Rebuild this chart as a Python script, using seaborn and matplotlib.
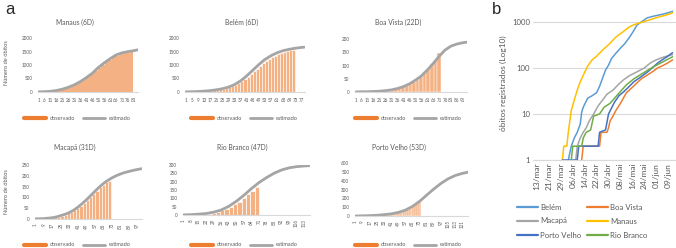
import pandas as pd
import numpy as np
import seaborn as sns
import matplotlib.pyplot as plt
from matplotlib.lines import Line2D

sns.set_style("white")
plt.rcParams['font.family'] = ['Lato', 'DejaVu Sans']

# ---- panel a: cumulative deaths, observed (bars) vs estimated (line) ----
manaus_est_days = [1, 6, 11, 16, 21, 26, 31, 36, 41, 46, 51, 56, 61, 66, 71, 76, 81, 84]
manaus_est_vals = [5, 12, 26, 55, 105, 175, 265, 385, 530, 690, 900, 1075, 1230, 1370, 1450, 1495, 1530, 1560]
manaus_obs_days = [4, 7, 10, 13, 16, 19, 22, 25, 28, 31, 34, 37, 40, 43, 46, 49, 52, 55, 58, 61, 64, 67, 70, 73, 76, 79]
manaus_obs_vals = [2, 5, 10, 20, 40, 70, 100, 140, 195, 245, 320, 395, 480, 570, 660, 770, 890, 1000, 1100, 1190,
                   1280, 1340, 1410, 1440, 1460, 1480]

belem_est_days = [1, 5, 9, 13, 17, 21, 25, 29, 33, 37, 41, 45, 49, 53, 57, 61, 65, 69, 73, 77, 79]
belem_est_vals = [5, 10, 18, 32, 50, 80, 120, 180, 270, 410, 590, 800, 1010, 1200, 1340, 1450, 1530, 1580, 1620,
                  1650, 1660]
belem_obs_days = list(range(2, 73, 2))
belem_obs_vals = [1, 3, 5, 8, 12, 18, 25, 35, 45, 60, 75, 95, 115, 140, 170, 210, 260, 320, 390, 470, 560, 660,
                  760, 860, 960, 1060, 1140, 1220, 1290, 1350, 1400, 1440, 1480, 1510, 1540, 1560]

boavista_est_days = [1, 6, 11, 16, 21, 26, 31, 36, 41, 46, 51, 56, 61, 66, 71, 76, 81, 86, 91, 94]
boavista_est_vals = [0, 1, 1, 2, 3, 5, 8, 13, 20, 30, 44, 60, 82, 107, 134, 158, 173, 181, 186, 188]
boavista_obs_days = [29, 32, 35, 38, 41, 44, 47, 50, 53, 56, 59, 62, 65, 68, 71]
boavista_obs_vals = [5, 8, 11, 15, 19, 24, 31, 38, 47, 58, 72, 88, 104, 120, 146]

macapa_est_days = [1, 5, 9, 13, 17, 21, 25, 29, 33, 37, 41, 45, 49, 53, 57, 61, 65, 69, 73, 77, 81, 85, 89, 93,
                   97, 101]
macapa_est_vals = [1, 1, 2, 4, 6, 10, 16, 22, 30, 41, 55, 71, 89, 108, 128, 147, 164, 178, 190, 200, 208, 215,
                   220, 225, 229, 233]
macapa_obs_days = [11, 14, 17, 20, 23, 26, 29, 32, 35, 38, 41, 44, 47, 50, 53, 56, 59, 62, 65, 68, 71]
macapa_obs_vals = [2, 3, 5, 7, 11, 15, 20, 26, 33, 41, 50, 60, 72, 86, 100, 115, 130, 146, 158, 170, 177]

riobranco_est_days = [1, 8, 15, 22, 29, 36, 43, 50, 57, 64, 71, 78, 85, 92, 99, 106, 113, 118]
riobranco_est_vals = [1, 2, 5, 9, 17, 30, 52, 82, 118, 158, 194, 224, 250, 270, 283, 290, 294, 296]
riobranco_obs_days = [13, 17, 21, 25, 29, 33, 37, 41, 45, 49, 53, 57, 61, 65, 69]
riobranco_obs_vals = [2, 3, 6, 9, 14, 20, 28, 38, 50, 64, 80, 100, 125, 145, 168]

portovelho_est_days = [1, 9, 17, 25, 33, 41, 49, 57, 65, 73, 81, 89, 97, 105, 113, 121, 127]
portovelho_est_vals = [0, 2, 4, 8, 15, 24, 40, 66, 108, 165, 236, 305, 368, 420, 458, 482, 495]
portovelho_obs_days = list(range(30, 75, 2))
portovelho_obs_vals = [10, 11, 13, 15, 17, 20, 23, 27, 31, 36, 41, 47, 53, 60, 68, 78, 88, 98, 110, 125, 140,
                       160, 180]

# ---- panel b: registered deaths (log), day offsets from 13/mar ----
start_b = pd.Timestamp("2020-03-13")
cities_b = ["Belém", "Boa Vista", "Macapá", "Manaus", "Porto Velho", "Rio Branco"]
belem_b_days = [21, 23, 25, 27, 29, 30, 31, 34, 37, 40, 42, 44, 46, 48, 50, 53, 56, 59, 62, 65, 67, 70, 74, 78,
                83, 87, 91]
belem_b_vals = [1, 2, 3, 4, 6, 11, 14, 22, 25, 29, 40, 60, 90, 115, 160, 210, 270, 340, 460, 650, 850, 1000,
                1230, 1330, 1440, 1550, 1700]
boavista_b_days = [30, 31, 42, 43, 47, 48, 49, 51, 53, 56, 60, 64, 67, 70, 74, 78, 81, 85, 88, 91]
boavista_b_vals = [1, 2, 2, 4, 4, 5, 7, 9, 12, 17, 29, 38, 47, 58, 70, 85, 100, 115, 130, 150]
macapa_b_days = [26, 27, 29, 31, 33, 35, 38, 41, 44, 47, 51, 55, 58, 62, 67, 72, 76, 80, 85, 91]
macapa_b_vals = [1, 2, 3, 4, 5, 7, 10, 15, 20, 27, 33, 45, 55, 68, 82, 100, 128, 150, 173, 195]
manaus_b_days = [17, 18, 20, 21, 22, 23, 25, 27, 29, 32, 34, 37, 40, 44, 48, 53, 58, 62, 65, 71, 76, 82, 87, 91]
manaus_b_vals = [1, 2, 2, 4, 7, 12, 20, 33, 50, 81, 110, 150, 180, 245, 320, 470, 620, 780, 870, 1000, 1120,
                 1290, 1420, 1580]
portovelho_b_days = [17, 27, 28, 41, 42, 46, 48, 52, 55, 58, 62, 65, 70, 74, 78, 81, 84, 87, 91]
portovelho_b_vals = [1, 1, 2, 2, 4, 4.5, 10, 18, 25, 30, 40, 50, 65, 81, 105, 128, 150, 173, 215]
riobranco_b_days = [23, 24, 30, 31, 33, 36, 38, 42, 45, 49, 54, 60, 65, 69, 74, 78, 83, 87, 91]
riobranco_b_vals = [1, 2, 2, 3, 4, 4.5, 9, 10, 14, 17, 26, 43, 58, 70, 88, 105, 128, 150, 175]
ticks_b = ["13/mar", "21/mar", "29/mar", "06/abr", "14/abr", "22/abr", "30/abr", "08/mai", "16/mai", "24/mai",
           "01/jun", "09/jun"]

BAR = "#F4B183"
ORANGE = "#ED7D31"
GRAY = "#A5A5A5"
TXT = "#595959"
AXC = "#D9D9D9"
colors_b = {"Belém": "#5B9BD5", "Boa Vista": "#ED7D31", "Macapá": "#A5A5A5",
            "Manaus": "#FFC000", "Porto Velho": "#4472C4", "Rio Branco": "#70AD47"}

W, H = 676, 248
fig = plt.figure(figsize=(W / 100, H / 100), dpi=100)


def box(x0, y0, x1, y1):
    return [x0 / W, 1 - y1 / H, (x1 - x0) / W, (y1 - y0) / H]


def small_panel(rect, title, txy, est_d, est_v, obs_d, obs_v, ymax, ystep, n, xstep, rot, lxy, edge):
    ax = fig.add_axes(rect)
    sns.barplot(x=obs_d, y=obs_v, native_scale=True, width=1, color=BAR, saturation=1,
                edgecolor="white", linewidth=edge, ax=ax)
    sns.lineplot(x=est_d, y=est_v, color=GRAY, linewidth=2, ax=ax)
    ax.set_xlim(0.5, n + 0.5)
    ax.set_ylim(0, ymax)
    ax.set_yticks(np.arange(0, ymax + 1, ystep))
    xt = list(range(1, n + 1, xstep))
    ax.set_xticks(xt)
    ax.set_xticklabels([str(v) for v in xt], rotation=rot)
    ax.tick_params(axis="x", length=0, labelsize=3.3, labelcolor=TXT, pad=3 if rot else 4)
    ax.tick_params(axis="y", length=0, labelsize=3.3, labelcolor=TXT, pad=4)
    ax.set_xlabel("")
    ax.set_ylabel("")
    sns.despine(ax=ax, left=True)
    ax.spines["bottom"].set_color(AXC)
    ax.spines["bottom"].set_linewidth(0.8)
    fig.text(txy[0] / W, 1 - txy[1] / H, title, ha="center", va="center", fontsize=4.9, color=TXT)
    hs = [Line2D([], [], color=ORANGE, lw=3), Line2D([], [], color=GRAY, lw=2)]
    ax.legend(hs, ["observado", "estimado"], ncol=2, loc="center left",
              bbox_to_anchor=(lxy[0] / W, 1 - lxy[1] / H), bbox_transform=fig.transFigure,
              frameon=False, fontsize=4, handlelength=4, handletextpad=0.6, columnspacing=1.5,
              borderpad=0, borderaxespad=0, labelcolor=TXT)
    return ax


small_panel(box(38, 38, 138, 92), "Manaus (6D)", (75, 22), manaus_est_days, manaus_est_vals,
            manaus_obs_days, manaus_obs_vals, 2000, 500, 84, 5, 0, (24, 118), 0)
small_panel(box(185, 38, 305, 92), "Belém (6D)", (242, 22), belem_est_days, belem_est_vals,
            belem_obs_days, belem_obs_vals, 2000, 500, 79, 4, 0, (191, 118), 0.4)
small_panel(box(355, 39, 467, 92), "Boa Vista (22D)", (398, 22), boavista_est_days, boavista_est_vals,
            boavista_obs_days, boavista_obs_vals, 200, 50, 94, 5, 0, (355, 118), 0.3)
small_panel(box(35, 165, 142, 219), "Macapá (31D)", (75, 147), macapa_est_days, macapa_est_vals,
            macapa_obs_days, macapa_obs_vals, 250, 50, 101, 8, 90, (24, 245), 0.4)
small_panel(box(183, 165, 310, 215), "Rio Branco (47D)", (242, 147), riobranco_est_days, riobranco_est_vals,
            riobranco_obs_days, riobranco_obs_vals, 300, 50, 118, 7, 90, (191, 245), 0.5)
small_panel(box(355, 163, 468, 216), "Porto Velho (53D)", (399, 147), portovelho_est_days, portovelho_est_vals,
            portovelho_obs_days, portovelho_obs_vals, 600, 100, 127, 8, 90, (355, 245), 0.3)

fig.text(7 / W, 1 - 63 / H, "Número de óbitos", rotation=90, ha="center", va="center", fontsize=4.1, color=TXT)
fig.text(7 / W, 1 - 192 / H, "Número de óbitos", rotation=90, ha="center", va="center", fontsize=4.1, color=TXT)

# ---- panel b ----
rows = []
for city, d, v in [("Belém", belem_b_days, belem_b_vals), ("Boa Vista", boavista_b_days, boavista_b_vals),
                   ("Macapá", macapa_b_days, macapa_b_vals), ("Manaus", manaus_b_days, manaus_b_vals),
                   ("Porto Velho", portovelho_b_days, portovelho_b_vals),
                   ("Rio Branco", riobranco_b_days, riobranco_b_vals)]:
    for dd, vv in zip(d, v):
        rows.append({"cidade": city, "data": start_b + pd.Timedelta(days=dd), "obitos": vv})
df_b = pd.DataFrame(rows)

axb = fig.add_axes(box(533, 0, 676, 160))
sns.lineplot(data=df_b, x="data", y="obitos", hue="cidade", hue_order=cities_b, palette=colors_b,
             linewidth=1.1, legend=False, ax=axb)
axb.set_yscale("log")
axb.set_ylim(1, 3000)
axb.set_yticks([1, 10, 100, 1000])
axb.set_yticklabels(["1", "10", "100", "1000"])
axb.yaxis.set_minor_locator(plt.NullLocator())
axb.set_xlim(start_b - pd.Timedelta(days=2.7), start_b + pd.Timedelta(days=93.3))
axb.set_xticks(pd.date_range(start_b, periods=len(ticks_b), freq="8D"))
axb.set_xticklabels(ticks_b, rotation=90)
axb.tick_params(axis="x", length=0, labelsize=6, labelcolor=TXT, pad=2)
axb.tick_params(axis="y", length=0, labelsize=5.6, labelcolor=TXT, pad=2)
axb.yaxis.grid(True, color=AXC, linewidth=0.8)
axb.set_axisbelow(True)
axb.set_xlabel("")
axb.set_ylabel("")
sns.despine(ax=axb, left=True)
axb.spines["bottom"].set_color(AXC)
fig.text(503 / W, 1 - 83 / H, "óbitos registrados (Log10)", rotation=90, ha="center", va="center",
         fontsize=6, color=TXT)

leg_order = ["Belém", "Macapá", "Porto Velho", "Boa Vista", "Manaus", "Rio Branco"]
hb = [Line2D([], [], color=colors_b[c], lw=1.6) for c in leg_order]
axb.legend(hb, leg_order, ncol=2, loc="center left", bbox_to_anchor=(517 / W, 1 - 221 / H),
           bbox_transform=fig.transFigure, frameon=False, fontsize=5.6, handlelength=2.7,
           handletextpad=0.25, columnspacing=0.8, labelspacing=0.9, borderpad=0, borderaxespad=0,
           labelcolor=TXT)

fig.text(5 / W, 1 - 10 / H, "a", ha="left", va="center", fontsize=12, family="Liberation Sans")
fig.text(492 / W, 1 - 10 / H, "b", ha="left", va="center", fontsize=12, family="Liberation Sans")

fig.savefig("out.png", dpi=100)
